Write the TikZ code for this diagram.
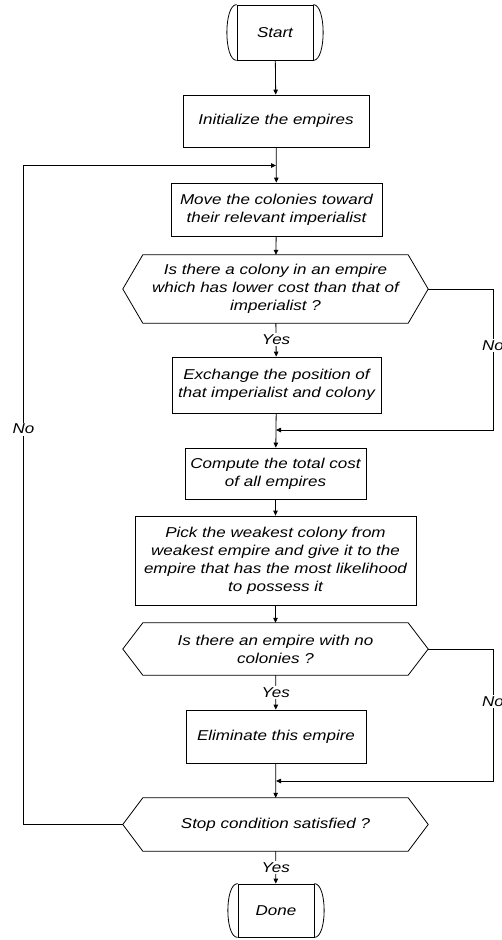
\documentclass[tikz,border=0pt]{standalone}
\usepackage{fontspec}
\setmainfont[FakeStretch=1.19]{Liberation Sans}
\usetikzlibrary{arrows.meta}

\begin{document}
\begin{tikzpicture}[x = 1pt, y = -1pt,
    every node/.style = {font = \fontsize{14.3}{18}\selectfont\itshape},
    box/.style = {rectangle, draw = black, line width = 0.8pt, align = center, inner sep = 0pt},
    term/.style = {rectangle, draw = black, line width = 0.8pt, minimum width = 76pt, minimum height = 55pt, inner sep = 0pt},
    quest/.style = {rectangle, align = center, minimum width = 265pt, inner sep = 0pt},
    lbl/.style = {fill = white, inner sep = 1.5pt},
    arr/.style = {line width = 0.8pt, -{Triangle[length = 5pt, width = 4.5pt]}},
    ln/.style = {line width = 0.8pt}]

    \useasboundingbox (0, 0) rectangle (502, 940);

    % start / done
    \node[term] (start) at (275, 32.5) {Start};
    \draw[ln] (start.north west) .. controls +(-13, 0) and +(-13, 0) .. (start.south west);
    \draw[ln] (start.north east) .. controls +(13, 0) and +(13, 0) .. (start.south east);

    \node[term, minimum height = 53pt] (done) at (276, 910.5) {Done};
    \draw[ln] (done.north west) .. controls +(-13, 0) and +(-13, 0) .. (done.south west);
    \draw[ln] (done.north east) .. controls +(13, 0) and +(13, 0) .. (done.south east);

    % process boxes
    \node[box, minimum width = 186pt, minimum height = 52pt] (init) at (276, 121) {Initialize the empires};
    \node[box, minimum width = 211pt, minimum height = 53pt] (move) at (276.5, 209.5) {Move the colonies toward\\their relevant imperialist};
    \node[box, minimum width = 209pt, minimum height = 56pt] (exch) at (276.5, 385) {Exchange the position of\\that imperialist and colony};
    \node[box, minimum width = 181pt, minimum height = 51pt] (comp) at (275.5, 473.5) {Compute the total cost\\of all empires};
    \node[box, minimum width = 281pt, minimum height = 89pt] (pick) at (275.5, 560.5) {Pick the weakest colony from\\weakest empire and give it to the\\empire that has the most likelihood\\to possess it};
    \node[box, minimum width = 180pt, minimum height = 53pt] (elim) at (276, 736.5) {Eliminate this empire};

    % decisions
    \node[quest, minimum height = 68pt] (q1) at (275.5, 289) {Is there a colony in an empire\\which has lower cost than that of\\imperialist ?};
    \coordinate (q1l) at ([xshift = -20pt] q1.west);
    \coordinate (q1r) at ([xshift = 20pt] q1.east);
    \draw[ln] (q1.north west) -- (q1.north east) -- (q1r) -- (q1.south east) -- (q1.south west) -- (q1l) -- cycle;

    \node[quest, minimum height = 52pt] (q2) at (275.5, 649) {Is there an empire with no\\colonies ?};
    \coordinate (q2l) at ([xshift = -20pt] q2.west);
    \coordinate (q2r) at ([xshift = 20pt] q2.east);
    \draw[ln] (q2.north west) -- (q2.north east) -- (q2r) -- (q2.south east) -- (q2.south west) -- (q2l) -- cycle;

    \node[quest, minimum height = 53pt] (q3) at (275.5, 824.5) {Stop condition satisfied ?};
    \coordinate (q3l) at ([xshift = -20pt] q3.west);
    \coordinate (q3r) at ([xshift = 20pt] q3.east);
    \draw[ln] (q3.north west) -- (q3.north east) -- (q3r) -- (q3.south east) -- (q3.south west) -- (q3l) -- cycle;

    % joins
    \coordinate (j0) at (276, 165.5);
    \coordinate (j1) at (276, 430);
    \coordinate (j2) at (276, 781);
    \coordinate (c1) at (493, 289);
    \coordinate (c2) at (493, 649);
    \coordinate (c3) at (23.5, 824.5);

    % main flow
    \draw[arr] (start) -- (init);
    \draw[arr] (init) -- (move);
    \draw[arr] (move) -- (q1);
    \draw[arr] (q1) -- node[lbl] {Yes} (exch);
    \draw[arr] (exch) -- (comp);
    \draw[arr] (comp) -- (pick);
    \draw[arr] (pick) -- (q2);
    \draw[arr] (q2) -- node[lbl] {Yes} (elim);
    \draw[arr] (elim) -- (q3);
    \draw[arr] (q3) -- node[lbl] {Yes} (done);

    % no branches
    \draw[arr] (q1r) -- (c1) |- node[lbl, pos = 0.2] {No} (j1);
    \draw[arr] (q2r) -- (c2) |- node[lbl, pos = 0.2] {No} (j2);
    \draw[arr] (q3l) -- (c3) |- node[lbl, pos = 0.3] {No} (j0);

\end{tikzpicture}
\end{document}
